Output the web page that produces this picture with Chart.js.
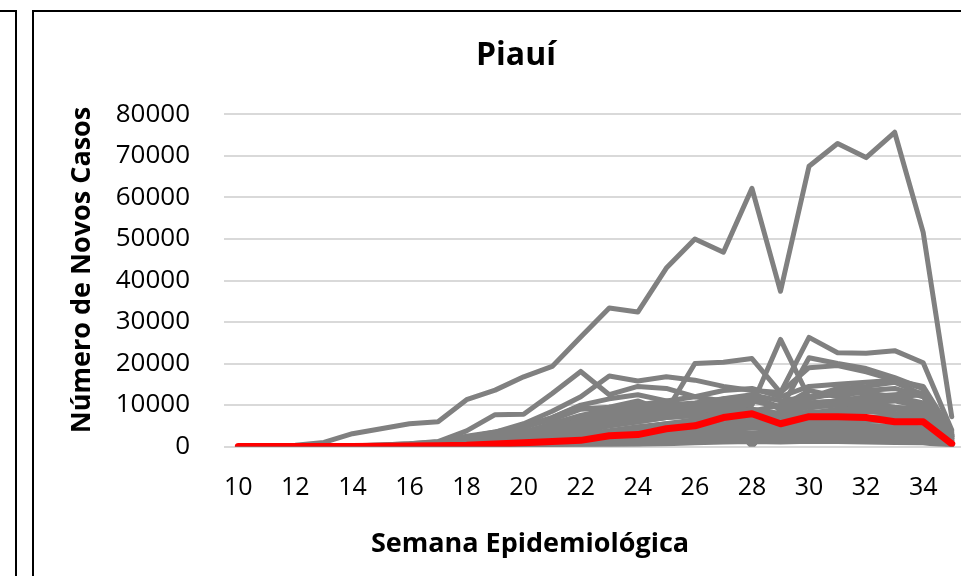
<!DOCTYPE html>
<html>
<head>
<meta charset="utf-8">
<script src="https://cdn.jsdelivr.net/npm/chart.js@4.4.0/dist/chart.umd.min.js"></script>
<style>
  html, body { margin: 0; padding: 0; background: #fff; overflow: hidden; width: 961px; height: 576px; }
  .painel-esq { position: absolute; left: -100px; top: 10px; width: 113px; height: 700px; border: 2px solid #000; }
  .painel { position: absolute; left: 32px; top: 10px; width: 1000px; height: 600px; border: 2px solid #000; }
</style>
</head>
<body>
<div class="painel-esq"></div>
<div class="painel"><canvas id="chart" width="1000" height="600"></canvas></div>
<script>
// Semanas epidemiológicas (eixo x)
const semanas = [10, 11, 12, 13, 14, 15, 16, 17, 18, 19, 20, 21, 22, 23, 24, 25, 26, 27, 28, 29, 30, 31, 32, 33, 34, 35];

// Marcas do eixo y
const yMin = 0;
const yMax = 80000;
const yPasso = 10000;

// Piauí (linha vermelha)
const piaui = [0, 0, 0, 0, 50, 100, 150, 200, 300, 600, 900, 1200, 1500, 2600, 2900, 4300, 5000, 7000, 7900, 5500, 7200, 7200, 7000, 6000, 6000, 700];

// Demais estados (linhas cinzas)
const estado01 = [0, 50, 300, 1000, 3100, 4300, 5500, 6000, 11300, 13600, 16800, 19300, 26400, 33400, 32400, 43000, 50000, 46800, 62200, 37400, 67500, 73000, 69600, 75700, 51600, 7200];
const estado02 = [0, 0, 0, 20, 150, 400, 700, 1100, 2500, 3500, 4800, 6500, 9000, 9500, 11000, 8500, 20000, 20300, 21200, 13000, 26300, 22600, 22500, 23100, 20200, 4000];
const estado03 = [0, 0, 0, 0, 50, 150, 300, 600, 1800, 3000, 4500, 7000, 9800, 8000, 7500, 9000, 8500, 9500, 10000, 25800, 11800, 14000, 14500, 15500, 12500, 3000];
const estado04 = [0, 0, 0, 50, 200, 400, 700, 1200, 3800, 7700, 7800, 12800, 18100, 12500, 14500, 14000, 12000, 11000, 12000, 9500, 13500, 12000, 11000, 12000, 10500, 2500];
const estado05 = [0, 0, 0, 0, 100, 200, 400, 700, 2200, 3500, 5500, 8500, 12000, 17000, 15800, 16800, 16000, 14500, 13500, 13000, 19000, 19500, 18000, 16000, 14500, 3500];
const estado06 = [0, 0, 0, 0, 50, 100, 200, 400, 1200, 2000, 3000, 4500, 6000, 7500, 8500, 9500, 10000, 11500, 12000, 9000, 21400, 20000, 18800, 16600, 14000, 2500];
const estado07 = [0, 0, 0, 0, 0, 50, 150, 300, 1000, 2000, 3500, 5500, 7500, 9000, 10000, 11000, 12000, 13500, 14000, 12000, 14500, 15000, 15500, 16000, 14000, 3000];
const estado08 = [0, 0, 0, 0, 50, 100, 250, 500, 1500, 3000, 5000, 7000, 10000, 11500, 12500, 11000, 9500, 8500, 9000, 7500, 10500, 11000, 12000, 12500, 13000, 2800];
const estado09 = [0, 0, 0, 0, 0, 50, 100, 200, 600, 1200, 2200, 3800, 6000, 9500, 8500, 9000, 9500, 10500, 0, 9000, 10500, 11000, 10000, 11500, 10000, 2000];
const estado10 = [0, 0, 0, 0, 0, 0, 50, 100, 400, 800, 1600, 2800, 4500, 6500, 7000, 8000, 8500, 9000, 8500, 10000, 9500, 10000, 10500, 11000, 9500, 2200];
const estado11 = [0, 0, 0, 0, 0, 50, 100, 200, 400, 800, 1400, 2500, 3800, 5000, 6000, 7000, 7500, 8000, 0, 8500, 8000, 9000, 9500, 9000, 8500, 1800];
const estado12 = [0, 0, 0, 0, 0, 0, 50, 150, 400, 900, 1700, 3000, 4500, 5500, 6500, 7500, 8000, 7000, 7500, 6500, 8500, 8000, 8500, 8000, 7500, 1500];
const estado13 = [0, 0, 0, 0, 0, 0, 0, 50, 150, 300, 700, 1300, 2200, 3500, 4500, 5500, 6500, 7000, 6500, 7500, 7000, 7500, 7000, 7500, 7000, 1500];
const estado14 = [0, 0, 0, 0, 0, 0, 50, 100, 250, 500, 1000, 1800, 2800, 3800, 4800, 5500, 6000, 6500, 7500, 7000, 6500, 7000, 6500, 7000, 6500, 1200];
const estado15 = [0, 0, 0, 0, 0, 0, 0, 50, 100, 250, 600, 1100, 1800, 2700, 3500, 4200, 5000, 5500, 6000, 5500, 6000, 6500, 6000, 6500, 5500, 1000];
const estado16 = [0, 0, 0, 0, 0, 0, 0, 0, 50, 150, 400, 800, 1400, 2000, 2700, 3400, 4000, 4500, 5000, 4500, 5500, 5500, 5000, 5000, 4500, 900];
const estado17 = [0, 0, 0, 0, 0, 0, 0, 0, 50, 100, 300, 600, 1000, 1600, 2200, 2800, 3400, 4000, 4500, 4000, 4500, 5000, 4800, 4600, 4200, 800];
const estado18 = [0, 0, 0, 0, 0, 0, 0, 50, 100, 200, 400, 700, 1200, 1800, 2400, 3000, 3500, 3800, 3200, 3600, 3900, 4200, 4000, 3800, 3500, 700];
const estado19 = [0, 0, 0, 0, 0, 0, 0, 0, 0, 50, 150, 400, 800, 1300, 1900, 2500, 3000, 3200, 3000, 3300, 3500, 3600, 3400, 3200, 3000, 600];
const estado20 = [0, 0, 0, 0, 0, 0, 0, 0, 50, 100, 250, 500, 900, 1300, 1700, 2100, 2400, 2700, 2500, 2800, 3000, 2800, 2700, 2500, 2300, 500];
const estado21 = [0, 0, 0, 0, 0, 0, 0, 0, 0, 50, 100, 250, 500, 800, 1100, 1400, 1700, 2000, 2200, 2000, 2300, 2200, 2100, 2000, 1800, 400];
const estado22 = [0, 0, 0, 0, 0, 0, 0, 0, 0, 0, 50, 150, 300, 500, 700, 1000, 1300, 1500, 1700, 1600, 1800, 1700, 1600, 1500, 1400, 300];
const estado23 = [0, 0, 0, 0, 0, 0, 0, 0, 0, 0, 0, 50, 150, 300, 500, 700, 900, 1100, 1200, 1100, 1300, 1200, 1100, 1000, 900, 200];
const estado24 = [0, 0, 0, 0, 0, 50, 150, 300, 900, 1800, 3000, 4500, 6500, 8000, 9000, 10000, 10500, 11500, 12500, 11000, 12000, 12500, 13000, 12000, 12500, 2500];
const estado25 = [0, 0, 0, 0, 0, 0, 100, 200, 700, 1400, 2400, 3800, 5500, 7000, 8000, 8500, 9500, 10500, 11000, 9500, 11500, 13000, 13500, 14000, 12000, 2500];
const estado26 = [0, 0, 0, 0, 0, 0, 50, 100, 300, 600, 1200, 2200, 3500, 5000, 6000, 7000, 7500, 8000, 9000, 8000, 9500, 10000, 10500, 9500, 9000, 2000];

const outrosEstados = [
  estado01, estado02, estado03, estado04, estado05, estado06, estado07, estado08, estado09,
  estado10, estado11, estado12, estado13, estado14, estado15, estado16, estado17, estado18,
  estado19, estado20, estado21, estado22, estado23, estado24, estado25, estado26,
];

const fonte = "'Open Sans', sans-serif";

const datasets = [
  {
    label: "Piauí",
    data: piaui,
    borderColor: "#ff0000",
    borderWidth: 7,
  },
  ...outrosEstados.map((valores, i) => ({
    label: `Estado ${i + 1}`,
    data: valores,
    borderColor: "#808080",
    borderWidth: 5,
  })),
];

const config = {
  type: "line",
  data: { labels: semanas, datasets },
  options: {
    responsive: false,
    animation: false,
    layout: { padding: { left: 32, right: 68, top: 0, bottom: 0 } },
    elements: {
      point: { radius: 0 },
      line: { tension: 0, borderCapStyle: "round", borderJoinStyle: "round", fill: false },
    },
    scales: {
      x: {
        offset: true,
        grid: { display: false, drawTicks: false },
        border: { display: false },
        ticks: {
          autoSkip: false,
          maxRotation: 0,
          padding: 26,
          color: "#000",
          font: { family: fonte, size: 25 },
          callback: function (value) {
            const semana = this.getLabelForValue(value);
            return semana % 2 === 0 ? semana : "";
          },
        },
        afterFit: (scale) => { scale.height = 70; },
      },
      y: {
        min: yMin,
        max: yMax,
        grid: { color: "#d9d9d9", lineWidth: 2, drawTicks: false },
        border: { display: false },
        ticks: {
          stepSize: yPasso,
          padding: 34,
          color: "#000",
          font: { family: fonte, size: 26 },
          callback: (valor) => String(valor),
        },
        title: {
          display: true,
          // espaços à esquerda sobem um pouco o texto, como no Excel
          text: "   Número de Novos Casos",
          color: "#000",
          padding: { top: 0, bottom: 0 },
          font: { family: fonte, size: 27, weight: "bold" },
        },
        afterFit: (scale) => { scale.width = 158; },
      },
    },
    plugins: {
      legend: { display: false },
      tooltip: { enabled: false },
      title: {
        display: true,
        text: "Piauí",
        color: "#000",
        padding: { top: 25, bottom: 39 },
        font: { family: fonte, size: 32, weight: "bold" },
      },
      subtitle: {
        display: true,
        position: "bottom",
        text: "    Semana Epidemiológica",
        color: "#000",
        padding: { top: 12, bottom: 51 },
        font: { family: fonte, size: 27, weight: "bold" },
      },
    },
  },
};

const ctx = document.querySelector("#chart").getContext("2d");
const chart = new Chart(ctx, config);
</script>
</body>
</html>
